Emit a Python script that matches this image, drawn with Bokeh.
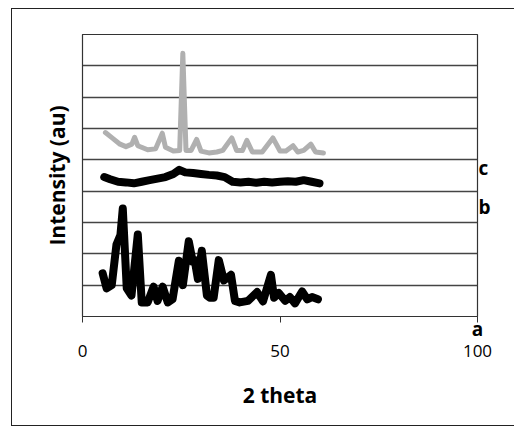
from bokeh.plotting import figure
from bokeh.models import FixedTicker, Range1d, LinearAxis
from bokeh.embed import file_html
from bokeh.resources import INLINE

# ---- data ----
two_theta_a = [5.1, 6.1, 7.4, 8.6, 9.6, 10.2, 11.2, 12.4, 14.0, 15.0, 16.5, 18.0, 19.0,
               20.3, 21.6, 22.8, 24.4, 25.4, 26.9, 27.9, 28.4, 29.2, 30.2, 31.5, 32.2,
               33.2, 34.5, 35.8, 37.6, 38.6, 39.8, 41.9, 44.2, 45.7, 47.7, 48.5, 49.7,
               51.3, 52.5, 53.8, 55.6, 56.9, 58.1, 59.6]
intensity_a = [1.38, 0.9, 1.0, 2.3, 2.6, 3.45, 0.9, 0.67, 2.62, 0.45, 0.45, 0.95, 0.5,
               0.95, 0.45, 0.55, 1.78, 1.0, 2.4, 1.75, 1.8, 1.2, 2.1, 0.67, 0.6,
               0.6, 1.8, 1.15, 1.33, 0.5, 0.45, 0.5, 0.78, 0.48, 1.33, 0.6, 0.75,
               0.5, 0.62, 0.42, 0.8, 0.55, 0.62, 0.55]

two_theta_c = [5.5, 7, 9, 11, 13, 15, 17, 19, 21, 23, 24.5, 26, 28, 30, 32, 34, 36, 38,
               40, 42, 44, 46, 48, 50, 52, 54, 56, 58, 60]
intensity_c = [4.45, 4.38, 4.3, 4.28, 4.25, 4.3, 4.35, 4.4, 4.45, 4.55, 4.68, 4.6, 4.58,
               4.55, 4.52, 4.5, 4.45, 4.3, 4.28, 4.3, 4.27, 4.3, 4.28, 4.3, 4.32, 4.3,
               4.35, 4.3, 4.25]

two_theta_b = [5.8, 7.5, 9.5, 11, 12.5, 13.2, 14, 16.5, 18.5, 20.2, 21, 23, 24.6, 25.4,
               26.2, 27.5, 28.9, 30, 32, 34, 35.5, 37.8, 39, 40.5, 41.6, 43, 45.5, 48.2,
               50, 51.5, 53.3, 54.5, 56, 57.8, 59, 61]
intensity_b = [5.87, 5.7, 5.5, 5.42, 5.5, 5.72, 5.45, 5.32, 5.35, 5.85, 5.4, 5.28, 5.3,
               8.4, 5.3, 5.3, 5.65, 5.28, 5.22, 5.25, 5.3, 5.7, 5.3, 5.3, 5.62, 5.25,
               5.25, 5.7, 5.28, 5.28, 5.45, 5.25, 5.3, 5.5, 5.25, 5.22]

x_ticks = [0, 50, 100]
x_tick_labels = ["0", "50", "100"]
y_grid = [0, 1, 2, 3, 4, 5, 6, 7, 8, 9]
series_labels = ["a", "b", "c"]

FONT = "Open Sans"

p = figure(width=503, height=418, output_backend="svg", toolbar_location=None,
           x_range=Range1d(0, 100), y_range=Range1d(0, 9),
           min_border_left=70, min_border_top=25, min_border_right=38, min_border_bottom=111)
p.styles = {"margin-left": "11px", "margin-top": "8px",
            "border-left": "1.5px solid #222", "border-top": "1.5px solid #222",
            "border-bottom": "1.5px solid #222"}

p.background_fill_color = "white"
p.border_fill_color = "white"
p.outline_line_color = "#333333"
p.outline_line_width = 1.2

# x axis nearest the frame: line, ticks and the series letter "a" at the right end
ax1 = p.xaxis[0]
ax1.ticker = FixedTicker(ticks=x_ticks)
ax1.major_label_overrides = {x_ticks[0]: "", x_ticks[1]: "", x_ticks[2]: series_labels[0]}
ax1.minor_tick_line_color = None
ax1.major_tick_in = 0
ax1.major_tick_out = 6
ax1.major_tick_line_color = "#333333"
ax1.axis_line_color = "#333333"
ax1.major_label_text_font = FONT
ax1.major_label_text_font_style = "bold"
ax1.major_label_text_font_size = "19px"
ax1.major_label_text_color = "black"
ax1.major_label_standoff = -7

# second x axis below: the numeric tick labels and the title
ax2 = LinearAxis(ticker=FixedTicker(ticks=x_ticks),
                 major_label_overrides=dict(zip(x_ticks, x_tick_labels)))
ax2.axis_line_color = None
ax2.major_tick_line_color = None
ax2.minor_tick_line_color = None
ax2.major_tick_in = 0
ax2.major_tick_out = 0
ax2.major_label_text_font = FONT
ax2.major_label_text_font_size = "17px"
ax2.major_label_text_color = "black"
ax2.major_label_standoff = 0
ax2.axis_label = "2 theta"
ax2.axis_label_text_font = FONT
ax2.axis_label_text_font_style = "bold"
ax2.axis_label_text_font_size = "21px"
ax2.axis_label_text_color = "black"
ax2.axis_label_standoff = 21
p.add_layout(ax2, "below")

# y axis
p.yaxis.ticker = FixedTicker(ticks=y_grid)
p.yaxis.minor_tick_line_color = None
p.yaxis.major_tick_line_color = None
p.yaxis.major_tick_in = 0
p.yaxis.major_tick_out = 0
p.yaxis.major_label_text_font_size = "0px"
p.yaxis.major_label_standoff = 0
p.yaxis.axis_line_color = "#333333"
p.yaxis.axis_label = "Intensity (au)"
p.yaxis.axis_label_text_font = FONT
p.yaxis.axis_label_text_font_style = "bold"
p.yaxis.axis_label_text_font_size = "21px"
p.yaxis.axis_label_text_color = "black"
p.yaxis.axis_label_standoff = 12

# right axis carrying the letters "b" and "c"
p.extra_y_ranges = {"letters": Range1d(0, 900)}
ax_r = LinearAxis(y_range_name="letters", ticker=FixedTicker(ticks=[348, 475]),
                  major_label_overrides={348: series_labels[1], 475: series_labels[2]})
ax_r.axis_line_color = None
ax_r.major_tick_line_color = None
ax_r.minor_tick_line_color = None
ax_r.major_tick_in = 0
ax_r.major_tick_out = 0
ax_r.major_label_standoff = 1
ax_r.major_label_text_font = FONT
ax_r.major_label_text_font_style = "bold"
ax_r.major_label_text_font_size = "19px"
ax_r.major_label_text_color = "black"
p.add_layout(ax_r, "right")

p.xgrid.grid_line_color = None
p.ygrid.grid_line_color = "#444444"
p.ygrid.grid_line_width = 1.5

# series
p.line(two_theta_b, intensity_b, line_color="#b0b0b0", line_width=5,
       line_join="round", line_cap="round")
p.line(two_theta_c, intensity_c, line_color="black", line_width=8,
       line_join="round", line_cap="round")
p.line(two_theta_a, intensity_a, line_color="black", line_width=8,
       line_join="round", line_cap="round")

open("out.html", "w").write(file_html(p, INLINE))
